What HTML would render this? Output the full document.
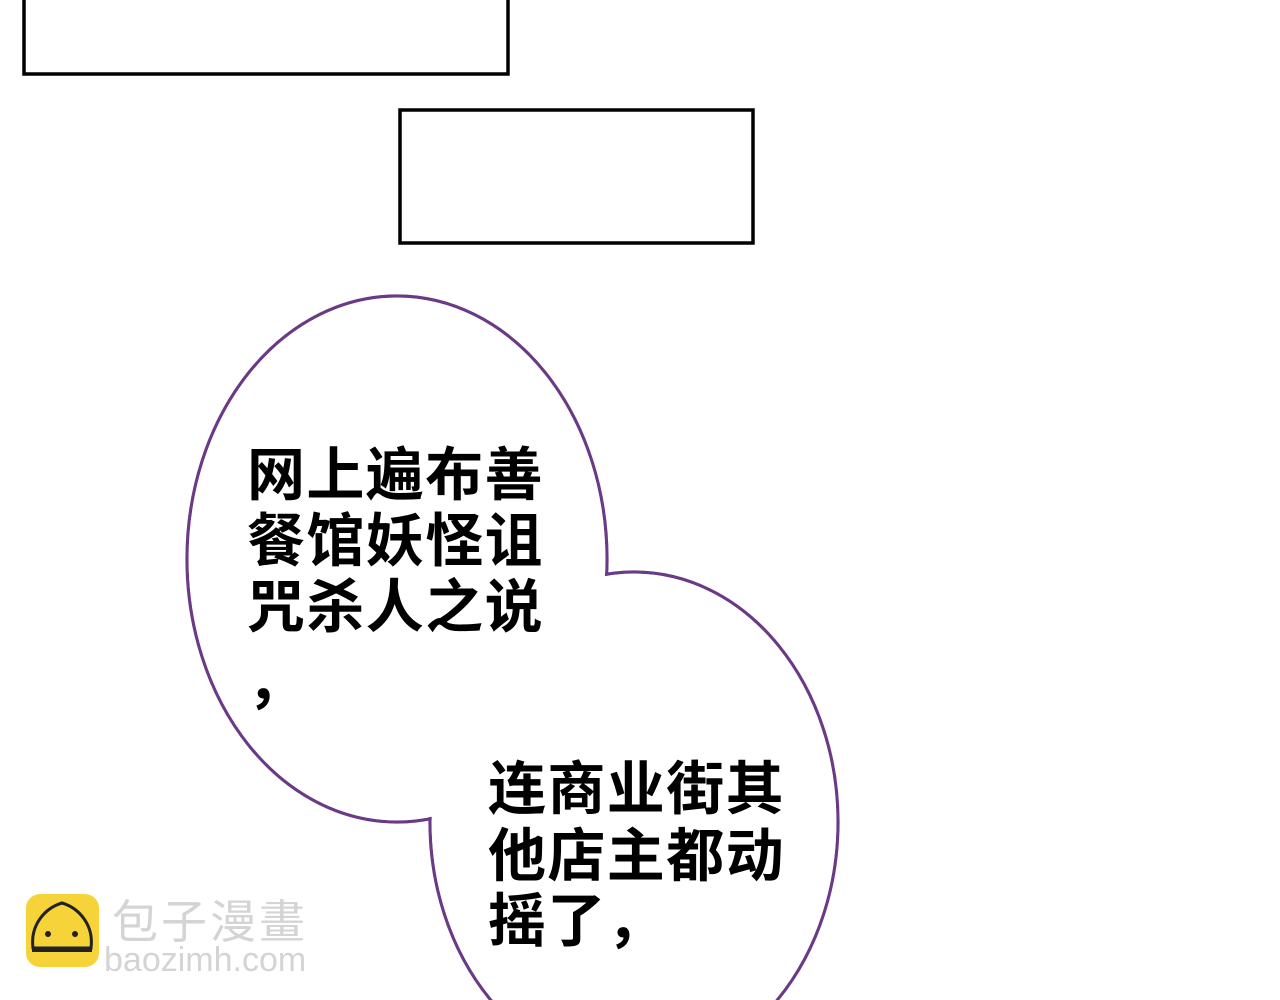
<!DOCTYPE html>
<html><head><meta charset="utf-8"><style>
html,body{margin:0;padding:0;background:#fff;width:1280px;height:1000px;overflow:hidden}
#w{position:relative;width:1280px;height:1000px;overflow:hidden}
.t{position:absolute;font-family:"Liberation Sans","Noto Sans CJK SC",sans-serif;font-weight:600;font-size:58px;line-height:58px;letter-spacing:1.4px;color:#000;white-space:nowrap}
</style></head><body><div id="w">
<svg width="1280" height="1000" style="position:absolute;left:0;top:0">
<rect x="24" y="-10" width="484" height="84" fill="none" stroke="#000" stroke-width="3.5"/>
<rect x="400" y="110" width="353" height="133" fill="none" stroke="#000" stroke-width="3.5"/>
<ellipse cx="397" cy="559" rx="210" ry="263" fill="none" stroke="#6a3a86" stroke-width="3.2"/>
<ellipse cx="634" cy="822" rx="204" ry="250" fill="none" stroke="#6a3a86" stroke-width="3.2"/>
<ellipse cx="397" cy="559" rx="208.4" ry="261.4" fill="#fff"/>
<ellipse cx="634" cy="822" rx="202.4" ry="248.4" fill="#fff"/>
<g>
<rect x="26" y="894" width="73" height="73" rx="14" fill="#f7d33a"/>
<path d="M33 948 C30 925 45 908 62 903 C79 908 94 925 91 948 Z" fill="#f7d33a" stroke="#222" stroke-width="3"/>
<path d="M32 950 L92 950" stroke="#222" stroke-width="4"/>
<circle cx="48" cy="934" r="3" fill="#222"/><circle cx="75" cy="934" r="3" fill="#222"/>
</g>
</svg>
<div style="position:absolute;left:112px;top:894px;font-family:'Noto Sans CJK SC',sans-serif;font-size:46px;line-height:50px;color:#d4d4d4;letter-spacing:3px">包子漫畫</div>
<div style="position:absolute;left:104px;top:941px;font-family:'Liberation Sans',sans-serif;font-size:34px;line-height:38px;color:#d4d4d4">baozimh.com</div>
<div class="t" style="left:247px;top:447px">网上遍布善</div>
<div class="t" style="left:247px;top:513px">餐馆妖怪诅</div>
<div class="t" style="left:247px;top:579px">咒杀人之说</div>
<div class="t" style="left:247px;top:654px">，</div>
<div class="t" style="left:488px;top:761px">连商业街其</div>
<div class="t" style="left:488px;top:828px">他店主都动</div>
<div class="t" style="left:488px;top:893px">摇了，</div>
</div></body></html>
